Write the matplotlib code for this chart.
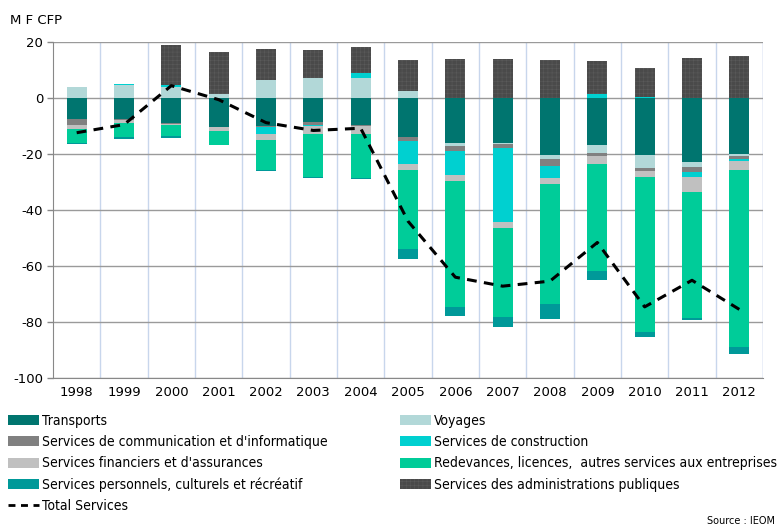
import matplotlib
matplotlib.use("Agg")
import matplotlib.pyplot as plt
from matplotlib.patches import Patch
from matplotlib.lines import Line2D
import numpy as np

years = ["1998", "1999", "2000", "2001", "2002", "2003", "2004", "2005",
         "2006", "2007", "2008", "2009", "2010", "2011", "2012"]

# M F CFP, signed values
transports   = [-7.4, -7.4, -9.1, -10.2, -10.0, -8.7, -9.6, -13.9,
                -16.2, -15.9, -20.2, -16.9, -20.4, -22.7, -20.0]
voyages      = [3.8, 4.6, 4.0, 1.6, 6.6, 7.1, 7.2, 2.5,
                -0.9, -0.6, -1.5, -2.6, -4.7, -1.9, -0.7]
communication = [-2.3, -0.4, -0.3, -0.3, -0.5, -0.9, -0.5, -1.4,
                 -1.7, -1.3, -2.6, -1.3, -1.1, -1.9, -1.2]
construction = [0.2, 0.4, 0.6, 0.0, -2.5, -0.3, 1.8, -8.3,
                -8.8, -26.4, -4.4, 1.6, 0.4, -1.8, -0.5]
financiers   = [-1.5, -1.0, -0.4, -1.3, -2.1, -2.9, -2.8, -2.1,
                -2.1, -2.4, -1.9, -2.9, -2.1, -5.1, -3.3]
redevances   = [-4.8, -5.3, -3.9, -4.9, -10.6, -15.4, -15.5, -28.4,
                -45.1, -31.6, -42.9, -38.1, -55.3, -45.1, -63.2]
personnels   = [-0.5, -0.6, -0.5, -0.2, -0.5, -0.5, -0.5, -3.3,
                -3.2, -3.5, -5.5, -3.2, -1.9, -0.9, -2.4]
administrations = [0.0, 0.0, 14.2, 14.7, 10.9, 9.9, 9.2, 11.0,
                   14.1, 14.1, 13.7, 11.7, 10.4, 14.3, 14.9]
total_services = [-12.4, -9.5, 4.4, -0.6, -8.8, -11.6, -10.8, -44.0,
                  -64.0, -67.2, -65.4, -51.6, -74.6, -65.1, -75.5]

series = [
    ("Transports", transports, "#00756f"),
    ("Voyages", voyages, "#b2d8d8"),
    ("Services de communication et d'informatique", communication, "#808080"),
    ("Services de construction", construction, "#00d0d0"),
    ("Services financiers et d'assurances", financiers, "#c0c0c0"),
    ("Redevances, licences,  autres services aux entreprises", redevances, "#00cc99"),
    ("Services personnels, culturels et récréatif", personnels, "#009999"),
    ("Services des administrations publiques", administrations, "#4a4a4a"),
]

plt.rcParams["font.family"] = "DejaVu Sans"
plt.rcParams["axes.unicode_minus"] = False
plt.rcParams["hatch.linewidth"] = 0.4

fig = plt.figure(figsize=(7.8, 5.26), dpi=100)
ax = fig.add_axes([53 / 780, 1 - 378 / 526, 710 / 780, 336 / 526])

x = np.arange(len(years))
pos_base = np.zeros(len(years))
neg_base = np.zeros(len(years))
handles = {}
for name, vals, col in series:
    v = np.array(vals)
    pos = np.where(v > 0, v, 0)
    neg = np.where(v < 0, v, 0)
    kw = dict(width=0.42, color=col, linewidth=0, zorder=3)
    if name.startswith("Services des admin"):
        kw.update(hatch="++++", edgecolor="#5a5a5a")
    ax.bar(x, pos, bottom=pos_base, **kw)
    ax.bar(x, neg, bottom=neg_base, **kw)
    pos_base += pos
    neg_base += neg
    h = dict(facecolor=col, linewidth=0)
    if "hatch" in kw:
        h.update(hatch="++++", edgecolor="#5a5a5a")
    handles[name] = Patch(**h)

ax.plot(x, total_services, color="black", lw=2.2, ls=(0, (3.2, 2.4)), zorder=4)

ax.set_xlim(-0.5, len(years) - 0.5)
ax.set_ylim(-100, 20)
ax.set_yticks(np.arange(-100, 21, 20))
ax.set_xticks(x)
ax.set_xticklabels(years)
ax.set_xticks(np.arange(0.5, len(years), 1), minor=True)
ax.grid(axis="y", color="#9a9a9a", lw=1.0, zorder=1)
ax.grid(axis="x", which="minor", color="#c8d6ec", lw=1.0, zorder=1)
ax.tick_params(axis="y", length=4, width=1, color="#888888", labelsize=9.5, pad=3)
ax.tick_params(axis="x", which="both", length=0, labelsize=9.5, pad=6)
for s in ["top", "right"]:
    ax.spines[s].set_visible(False)
ax.spines["left"].set_color("#888888")
ax.spines["bottom"].set_color("#888888")
ax.axvline(len(years) - 0.5, color="#c8d6ec", lw=1.0, zorder=1)

fig.text(10 / 780, 1 - 20 / 526, "M F CFP", fontsize=9.5, va="center", ha="left")

# legend in two columns, filled row by row as in the original
names = [s[0] for s in series]
left = [handles[n] for n in names[0::2]] + [
    Line2D([0], [0], color="black", lw=2, ls=(0, (2.5, 2.0)))]
left_labels = names[0::2] + ["Total Services"]
right = [handles[n] for n in names[1::2]]
right_labels = names[1::2]

leg_kw = dict(frameon=False, handlelength=2.2, handleheight=0.75,
              handletextpad=0.25, labelspacing=0.52, borderpad=0, borderaxespad=0,
              loc="upper left", prop={"stretch": "condensed", "size": 10})
fig.legend(left, left_labels, bbox_to_anchor=(8 / 780, 1 - 414 / 526), **leg_kw)
fig.legend(right, right_labels, bbox_to_anchor=(400 / 780, 1 - 414 / 526), **leg_kw)

fig.text(775 / 780, 1 - 521 / 526, "Source : IEOM", fontsize=7, ha="right", va="center")

fig.savefig("out.png", dpi=100)
